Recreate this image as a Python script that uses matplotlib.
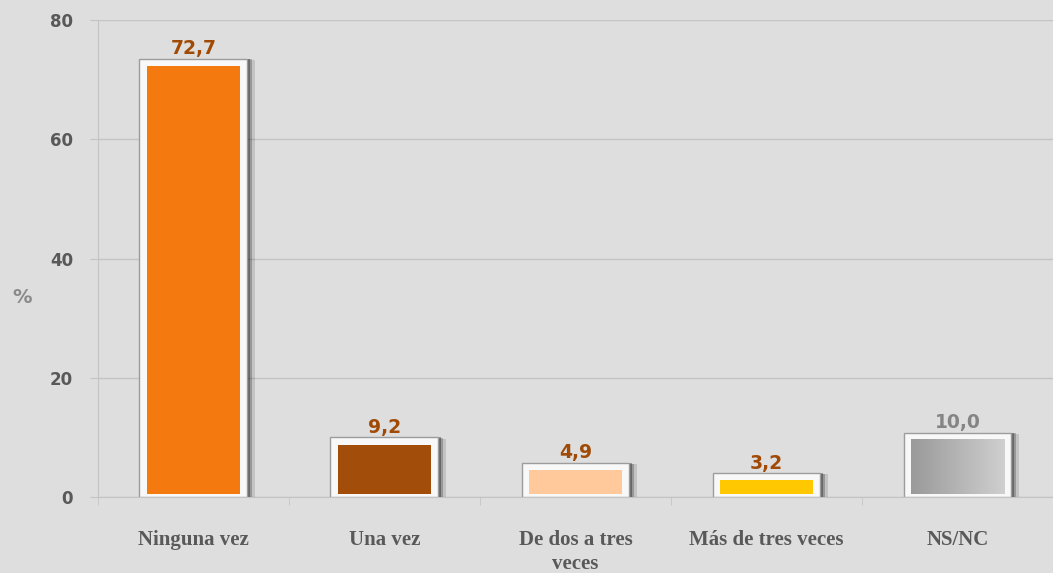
import numpy as np
import matplotlib.pyplot as plt

categories = ['Ninguna vez', 'Una vez', 'De dos a tres\nveces', 'Más de tres veces', 'NS/NC']
values = [72.7, 9.2, 4.9, 3.2, 10.0]
labels = ['72,7', '9,2', '4,9', '3,2', '10,0']
colors = ['#f47a10', '#a34d0a', '#ffc99c', '#ffc800', '#b2b2b2']
label_colors = ['#a04a06', '#a04a06', '#a04a06', '#a04a06', '#858585']

BG = '#dedede'
fig = plt.figure(figsize=(10.53, 5.73), dpi=100, facecolor=BG)
ax = fig.add_axes([0.093, 0.1326, 0.907, 0.8325])
ax.set_facecolor(BG)

x = np.arange(len(categories))
frame_w = 0.565
inner_w = 0.49

# shadow, frame, inner coloured bar
for i, v in enumerate(values):
    ax.bar(x[i] + 0.04, v + 0.6, width=frame_w, color='#000000', alpha=0.12, zorder=2)
    ax.bar(x[i] + 0.025, v + 0.7, width=frame_w, color='#000000', alpha=0.22, zorder=2)
    ax.bar(x[i] + 0.012, v + 0.8, width=frame_w, color='#000000', alpha=0.32, zorder=2)
ax.bar(x, [v + 0.8 for v in values], width=frame_w, color='#f8f8f8',
       edgecolor='#9c9c9c', linewidth=1.0, zorder=3)
inner = ax.bar(x, [v - 0.9 for v in values], bottom=0.5, width=inner_w, color=colors, zorder=4)

# grey bar drawn with a left-to-right gradient like the original
r = inner[4]
grad = np.linspace(0, 1, 100).reshape(1, -1)
ax.imshow(grad, cmap=plt.matplotlib.colors.LinearSegmentedColormap.from_list('g', ['#9a9a9a', '#cfcfcf']),
          extent=(r.get_x(), r.get_x() + r.get_width(), r.get_y(), r.get_y() + r.get_height()),
          aspect='auto', zorder=4.5)

for i, v in enumerate(values):
    ax.text(x[i], v + 0.9, labels[i], ha='center', va='bottom', fontsize=13.5,
            fontweight='bold', family='DejaVu Sans', color=label_colors[i], zorder=5)

ax.set_xlim(-0.5, 4.5)
ax.set_ylim(0, 80)
ax.set_yticks([0, 20, 40, 60, 80])
ax.yaxis.grid(True, color='#c4c4c4', linewidth=1)
ax.set_axisbelow(True)
ax.tick_params(axis='y', length=6, color='#c4c4c4', labelsize=12, labelcolor='#595959', pad=12)
for t in ax.get_yticklabels():
    t.set_fontweight('bold')
    t.set_family('DejaVu Sans')

ax.set_xticks(x)
ax.set_xticklabels(categories, family='Liberation Serif', fontweight='bold',
                   fontsize=15, color='#595959', linespacing=1.25, va='top')
ax.tick_params(axis='x', length=0, pad=24)
ax.set_xticks(np.arange(-0.5, 5.0, 1.0), minor=True)
ax.tick_params(axis='x', which='minor', length=6, color='#c4c4c4')

for s in ['top', 'right']:
    ax.spines[s].set_visible(False)
ax.spines['left'].set_color('#c4c4c4')
ax.spines['bottom'].set_color('#c4c4c4')

fig.text(0.021, 0.48, '%', fontsize=14, fontweight='bold', family='DejaVu Sans',
         color='#8a8a8a', ha='center', va='center')

fig.savefig('out.png', dpi=100, facecolor=BG)
